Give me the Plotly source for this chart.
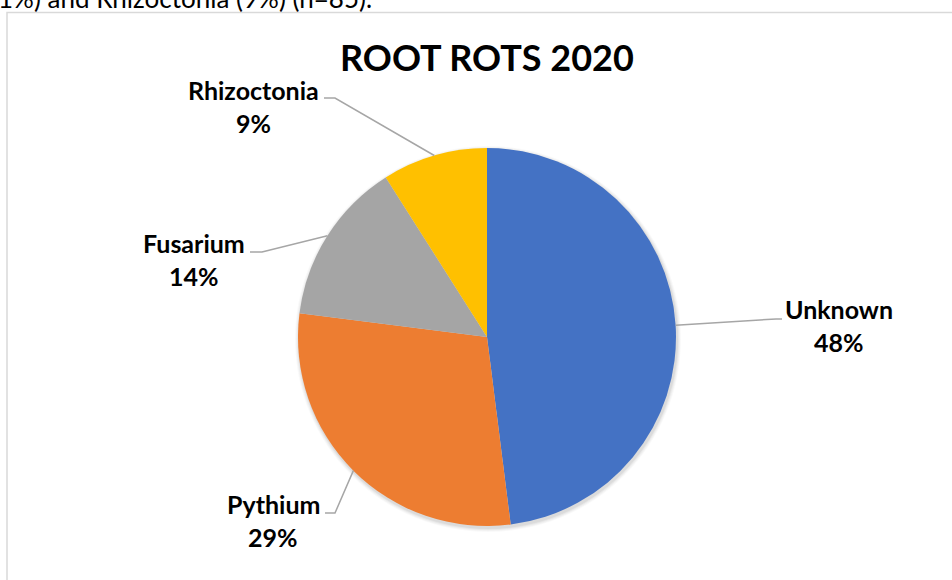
import math
import plotly.graph_objects as go

# Root rot causes, 2020 survey
categories = ["Unknown", "Pythium", "Fusarium", "Rhizoctonia"]
shares = [48, 29, 14, 9]
colors = ["#4472C4", "#ED7D31", "#A5A5A5", "#FFC000"]
title_text = "ROOT ROTS 2020"
caption_text = "1%) and Rhizoctonia (9%) (n=85)."

W, H = 952, 580
CX, CY, R = 487, 337, 189          # pie centre and radius in pixels

# label placement: (centre x, name baseline y, elbow x, elbow y, line end x)
label_layout = {
    "Unknown":     (839, 318, 776, 319, 782),
    "Pythium":     (273, 513, 335, 513, 325),
    "Fusarium":    (194, 252, 262, 252, 250),
    "Rhizoctonia": (253, 99, 335, 98, 324),
}

FONT = "Lato, 'Open Sans', sans-serif"


def px(x):
    return x / W


def py(y):
    return 1 - y / H


def disc(cx, cy, r):
    return dict(x=[px(cx - r), px(cx + r)], y=[py(cy + r), py(cy - r)])


fig = go.Figure()

# soft drop shadow under the pie
for grow, alpha in [(4, 0.025), (3, 0.03), (2, 0.04), (1, 0.05)]:
    fig.add_trace(go.Pie(
        values=[1], labels=["shadow"], sort=False,
        marker=dict(colors=[f"rgba(0,0,0,{alpha})"], line=dict(width=0)),
        textinfo="none", hoverinfo="skip", showlegend=False,
        domain=disc(CX + 1, CY + 2, R + grow),
    ))

fig.add_trace(go.Pie(
    labels=categories,
    values=shares,
    sort=False,
    direction="clockwise",
    rotation=0,
    marker=dict(colors=colors, line=dict(width=0)),
    textinfo="none",
    hoverinfo="label+percent",
    showlegend=False,
    domain=disc(CX, CY, R),
))

shapes = []
annotations = []

# chart-area frame
shapes.append(dict(type="rect", xref="paper", yref="paper",
                   x0=px(7), x1=px(W + 5), y0=py(H + 5), y1=py(12.5),
                   line=dict(color="#D9D9D9", width=1.5), layer="below"))

total = sum(shares)
start = 0.0
for name, val in zip(categories, shares):
    sweep = 360.0 * val / total
    mid = math.radians(start + sweep / 2)
    start += sweep
    ex, ey = CX + R * math.sin(mid), CY - R * math.cos(mid)
    lx, base_y, bx, by, tx = label_layout[name]
    shapes.append(dict(
        type="path", xref="paper", yref="paper",
        path=f"M {px(ex)},{py(ey)} L {px(bx)},{py(by)} L {px(tx)},{py(by)}",
        line=dict(color="#A6A6A6", width=1.5),
    ))
    annotations.append(dict(
        x=px(lx), y=py(base_y - 9), xref="paper", yref="paper",
        text=f"<b>{name}</b>", showarrow=False, xanchor="center", yanchor="middle",
        font=dict(family=FONT, size=25, color="#000000"),
    ))
    annotations.append(dict(
        x=px(lx), y=py(base_y + 33 - 9), xref="paper", yref="paper",
        text=f"<b>{val}%</b>", showarrow=False, xanchor="center", yanchor="middle",
        font=dict(family=FONT, size=25, color="#000000"),
    ))

# chart title
annotations.append(dict(
    x=px(487), y=py(57), xref="paper", yref="paper",
    text=f"<b>{title_text}</b>", showarrow=False, xanchor="center", yanchor="middle",
    font=dict(family=FONT, size=36, color="#000000"),
))

# line of body text above the chart
annotations.append(dict(
    x=px(-4), y=py(-2), xref="paper", yref="paper",
    text=caption_text, showarrow=False, xanchor="left", yanchor="middle",
    font=dict(family=FONT, size=26, color="#000000"),
))

fig.update_layout(
    width=W, height=H,
    margin=dict(l=0, r=0, t=0, b=0),
    paper_bgcolor="#FFFFFF",
    plot_bgcolor="#FFFFFF",
    shapes=shapes,
    annotations=annotations,
)

fig.write_html("out.html")
